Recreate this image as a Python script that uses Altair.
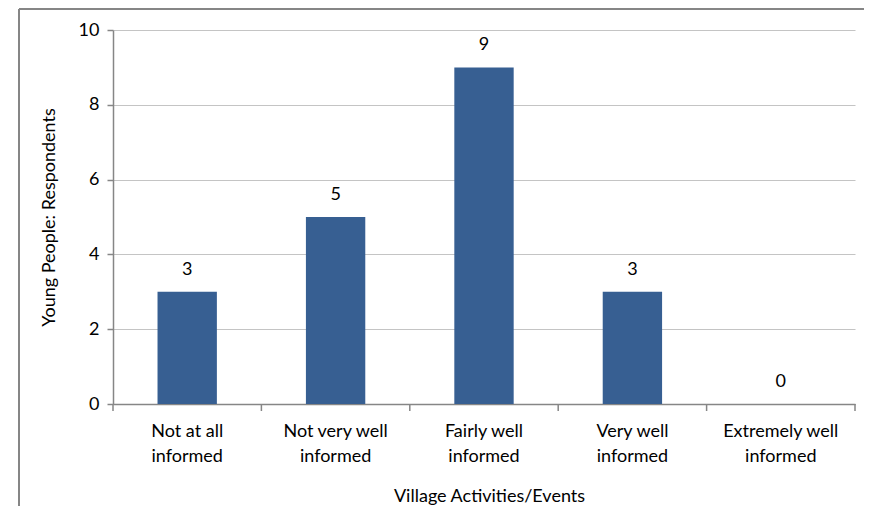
import altair as alt
import pandas as pd

categories = ["Not at all|informed", "Not very well|informed", "Fairly well|informed",
              "Very well|informed", "Extremely well|informed"]
counts = [3, 5, 9, 3, 0]
y_ticks = [0, 2, 4, 6, 8, 10]
boundaries = [0, 1, 2, 3, 4, 5]

FONT = "Lato"
FS = 18
AXIS_GRAY = "#868686"
BAR_COLOR = "#375f92"

df = pd.DataFrame({"cat": categories, "n": counts})
df_b = pd.DataFrame({"b": boundaries})

x_enc = alt.X(
    "cat:N", sort=categories,
    scale=alt.Scale(paddingInner=0.6, paddingOuter=0.3),
    axis=alt.Axis(
        title="Village Activities/Events", labelExpr="split(datum.label, '|')",
        labelAngle=0, ticks=False, domainColor=AXIS_GRAY, domainWidth=1.5,
        labelPadding=18, labelLineHeight=25, labelFontSize=FS, labelFont=FONT,
        labelColor="black", titleFont=FONT, titleFontSize=FS, titleFontWeight="normal",
        titleColor="black", titleX=376, titleY=92, titleBaseline="middle",
        titleAlign="center",
    ),
)
y_enc = alt.Y(
    "n:Q", scale=alt.Scale(domain=[0, 10], nice=False),
    axis=alt.Axis(
        title="Young People: Respondents", values=y_ticks, grid=True,
        gridColor="#c4c4c4", gridWidth=1.2, domainColor=AXIS_GRAY, domainWidth=1.5,
        tickColor=AXIS_GRAY, tickSize=6, tickWidth=1.5, labelPadding=8,
        labelFont=FONT, labelFontSize=FS, labelColor="black", titleFont=FONT,
        titleFontSize=FS, titleFontWeight="normal", titleColor="black",
        titleX=-64, titleY=187, titleAlign="center", titleBaseline="middle",
    ),
)

bars = alt.Chart(df).mark_bar(color=BAR_COLOR).encode(x=x_enc, y=y_enc)
labels = alt.Chart(df).mark_text(font=FONT, fontSize=FS, color="black",
                                 baseline="middle", dy=-22).encode(
    x=alt.X("cat:N", sort=categories), y="n:Q", text="n:Q")

xticks = alt.Chart(df_b).mark_rule(color=AXIS_GRAY, strokeWidth=1.5).encode(
    x=alt.X("b:Q", scale=alt.Scale(domain=[0, 5], nice=False, zero=False), axis=None),
    y=alt.value(374), y2=alt.value(381),
)

frame_top = alt.Chart(df_b).mark_rule(color=AXIS_GRAY, strokeWidth=2).encode(
    x=alt.value(-94), x2=alt.value(751), y=alt.value(-21)
)
frame_left = alt.Chart(df_b).mark_rule(color=AXIS_GRAY, strokeWidth=2).encode(
    x=alt.value(-94), y=alt.value(-21), y2=alt.value(482)
)

chart = alt.layer(frame_top, frame_left, bars + labels, xticks).resolve_scale(x="independent").properties(
    width=742, height=374,
    padding={"left": 105, "top": 22, "right": 9, "bottom": 102},
    autosize=alt.AutoSizeParams(type="none"),
    background="white",
).configure_view(stroke=None)

chart.save("out.html", embed_options={"renderer": "svg", "actions": False})
